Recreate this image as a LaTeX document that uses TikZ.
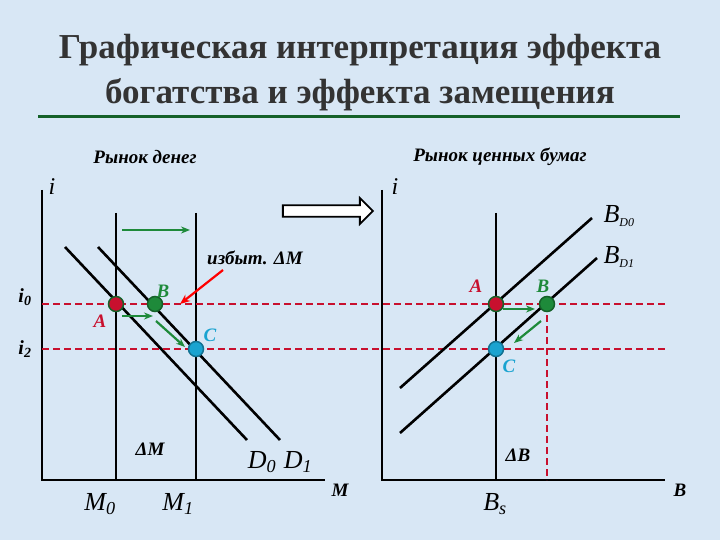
\documentclass[tikz,border=0pt]{standalone}
\usepackage{fontspec}
\setmainfont{Liberation Serif}
\usetikzlibrary{arrows.meta,shapes.arrows}
\definecolor{bg}{HTML}{D8E7F5}
\definecolor{gr}{HTML}{1E8A3A}
\definecolor{dred}{HTML}{C8102E}
\definecolor{cy}{HTML}{1AA3D0}
\begin{document}
\begin{tikzpicture}[x=1pt,y=-1pt,
  ln/.style={line width=2.6pt,black},
  ax/.style={line width=1.5pt,black},
  dsh/.style={dred,line width=2pt,dash pattern=on 7pt off 4pt},
  garr/.style={-{Stealth[length=9pt,width=7pt]},gr,line width=2.2pt},
  pt/.style={circle,inner sep=0pt,minimum size=15pt,draw=gr!70!black,line width=1.5pt},
  lbl/.style={font=\itshape\bfseries\fontsize{19}{21}\selectfont},
  big/.style={font=\itshape\fontsize{26}{28}\selectfont},
  ttl/.style={font=\bfseries\fontsize{35}{40}\selectfont,text=black!80}]
\fill[bg] (0,0) rectangle (720,540);
\useasboundingbox (0,0) rectangle (720,540);
\node[ttl] (t1) at (360,50) {Графическая интерпретация эффекта};
\node[ttl] (t2) at (360,95) {богатства и эффекта замещения};
\draw[gr!70!black,line width=3pt] (38,117) -- (680,117);
\node[lbl] (r1) at (145,157) {Рынок денег};
\node[lbl] (r2) at (500,157) {Рынок ценных бумаг};
% left axes
\draw[ax] (42,190) -- (42,480) -- (325,480);
\node[font=\itshape\fontsize{24}{26}\selectfont] (il) at (52,187) {i};
\draw[ln] (116,213) -- (116,480);
\draw[ln] (196,213) -- (196,480);
\draw[ln] (65,247) -- (247,440);
\draw[ln] (98,247) -- (280,440);
\draw[dsh] (42,304) -- (668,304);
\draw[dsh] (42,349) -- (668,349);
\node[pt,fill=dred] (A) at (116,304) {};
\node[pt,fill=gr] (B) at (155,304) {};
\node[pt,draw=cy!70!black,fill=cy] (C) at (196,349) {};
\draw[garr] (122,230) -- (190,230);
\draw[garr] (122,316) -- (153,316);
\draw[garr] (156,321) -- (185,347);
\coordinate (ra) at (223,270);
\draw[-{Stealth[length=10pt,width=8pt]},red,line width=2.2pt] (ra) -- (180,304);
\node[lbl] (izb) at (255,258) {избыт. ΔM};
\node[lbl,text=gr] at (163,291) {B};
\node[lbl,text=dred] at (100,321) {A};
\node[lbl,text=cy] at (210,335) {C};
\node[font=\bfseries\itshape\fontsize{20}{22}\selectfont] at (25,297) {i\textsubscript{0}};
\node[font=\bfseries\itshape\fontsize{20}{22}\selectfont] at (25,349) {i\textsubscript{2}};
\node[lbl] at (150,449) {ΔM};
\node[big] at (262,462) {D\textsubscript{0}};
\node[big] at (298,462) {D\textsubscript{1}};
\node[lbl] at (340,490) {M};
\node[big] at (100,504) {M\textsubscript{0}};
\node[big] at (178,504) {M\textsubscript{1}};
% block arrow
\node[single arrow,draw=black,fill=white,line width=1.8pt,minimum height=90pt,minimum width=26pt,single arrow head extend=5pt,inner sep=3pt] (bar) at (325,211) {};
% right axes
\draw[ax] (382,190) -- (382,480) -- (665,480);
\node[font=\itshape\fontsize{24}{26}\selectfont] (ir) at (395,187) {i};
\draw[ln] (496,213) -- (496,480);
\draw[ln] (400,388) -- (592,218);
\draw[ln] (400,433) -- (597,258);
\draw[dsh] (547,304) -- (547,480);
\node[pt,fill=dred] (A2) at (496,304) {};
\node[pt,fill=gr] (B2) at (547,304) {};
\node[pt,draw=cy!70!black,fill=cy] (C2) at (496,349) {};
\draw[garr] (503,309) -- (535,309);
\draw[garr] (541,321) -- (514,343);
\node[big,anchor=west] at (600,216) {B\textsubscript{\fontsize{12}{12}\selectfont D0}};
\node[big,anchor=west] at (600,257) {B\textsubscript{\fontsize{12}{12}\selectfont D1}};
\node[lbl,text=dred] at (476,286) {A};
\node[lbl,text=gr] at (543,286) {B};
\node[lbl,text=cy] at (509,366) {C};
\node[lbl] at (518,455) {ΔB};
\node[big] at (495,504) {B\textsubscript{s}};
\node[lbl] at (680,490) {B};
\end{tikzpicture}
\end{document}
